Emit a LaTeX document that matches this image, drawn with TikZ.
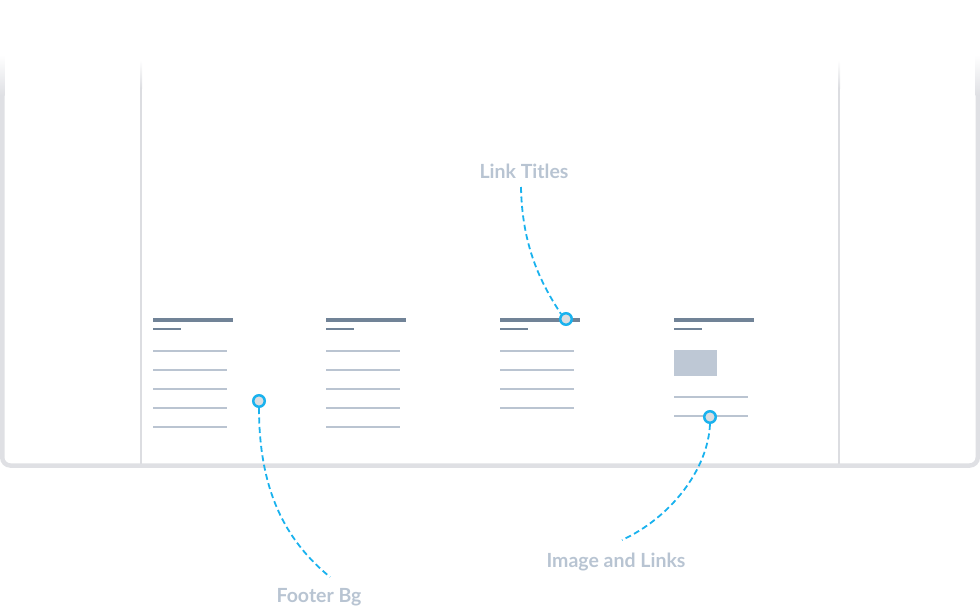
\documentclass[tikz,border=0pt]{standalone}
\usepackage{fontspec}
\setmainfont{Lato}[UprightFont=* Bold]
\begin{document}
\begin{tikzpicture}[x=1pt,y=-1pt,
  bordercol/.style={draw=borderc,line width=4.5pt},
  innerln/.style={draw=innerc,line width=2pt},
  titlebar/.style={draw=titlec,line width=4pt},
  subbar/.style={draw=titlec,line width=2.2pt},
  linkln/.style={draw=linkc,line width=2.2pt},
  dotc/.style={circle,draw=cyanc,fill=dotfill,line width=2.5pt,minimum size=11.5pt,inner sep=0pt},
  lbl/.style={text=labelc,font=\fontsize{19.5}{22}\selectfont,inner sep=0pt},
  conn/.style={draw=cyanc,line width=1.8pt,dash pattern=on 6pt off 3.5pt}]
\definecolor{borderc}{HTML}{DFE0E4}
\definecolor{innerc}{HTML}{DCDDE1}
\definecolor{titlec}{HTML}{718397}
\definecolor{linkc}{HTML}{BAC4D1}
\definecolor{imgc}{HTML}{BEC8D5}
\definecolor{labelc}{HTML}{B8C4D2}
\definecolor{cyanc}{HTML}{1AB2EE}
\definecolor{dotfill}{HTML}{DCDDE0}
\useasboundingbox (0,0) rectangle (980,608);
% outer frame
\draw[bordercol,rounded corners=8pt] (2.25,95) -- (2.25,465.5) -- (977.75,465.5) -- (977.75,95);
\shade[top color=white,bottom color=borderc] (0,55) rectangle (4.5,95.2);
\shade[top color=white,bottom color=borderc] (975.5,55) rectangle (980,95.2);
% inner vertical lines
\draw[innerln] (141,88) -- (141,464);
\draw[innerln] (839,88) -- (839,464);
\shade[top color=white,bottom color=innerc] (140,60) rectangle (142,88.2);
\shade[top color=white,bottom color=innerc] (838,60) rectangle (840,88.2);
% columns
\foreach \x in {153,326,500,674}{
  \draw[titlebar] (\x,320) -- ++(80,0);
  \draw[subbar] (\x,329) -- ++(28,0);
}
\foreach \x in {153,326}{
  \foreach \y in {351,370,389,408,427}{
    \draw[linkln] (\x,\y) -- ++(74,0);
  }
}
\foreach \y in {351,370,389,408}{
  \draw[linkln] (500,\y) -- ++(74,0);
}
\fill[imgc] (674,350) rectangle (717,376);
\draw[linkln] (674,397) -- ++(74,0);
\draw[linkln] (674,416) -- ++(74,0);
% callouts
\node[dotc] (c1) at (259,401) {};
\node[dotc] (c2) at (566,319) {};
\node[dotc] (c3) at (710,417) {};
\node[lbl] (t1) at (319,597) {Footer Bg};
\node[lbl] (t2) at (524,171) {Link Titles};
\node[lbl] (t3) at (616,562) {Image and Links};
\coordinate (e1) at (330,577);
\coordinate (e2) at (521,187);
\coordinate (e3) at (622,540);
\draw[conn] (c1.south) .. controls (259,490) and (285,540) .. (e1);
\draw[conn] (e2) .. controls (522,245) and (540,282) .. (c2.north west);
\draw[conn] (c3.south) .. controls (708,470) and (670,518) .. (e3);
\end{tikzpicture}
\end{document}
